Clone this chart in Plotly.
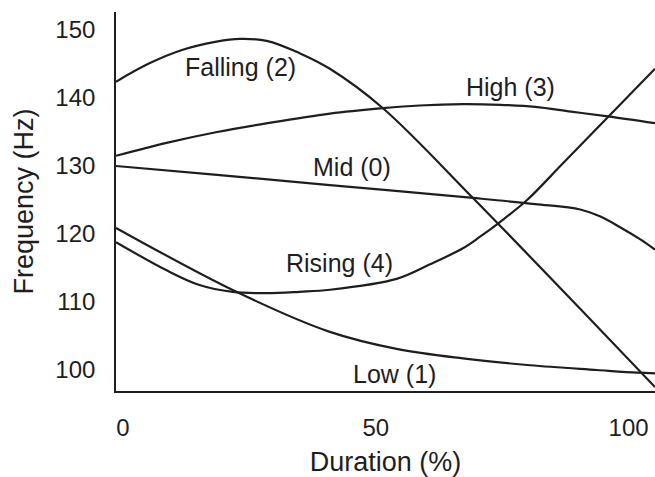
import plotly.graph_objects as go

# Duration (%) sample positions and frequency (Hz) values
falling_x = [0, 6.6, 13.2, 19.9, 24.5, 29.8, 36.3, 42.3, 52.8, 70.6, 91.8, 106.6]
falling_y = [142.4, 145.1, 147.1, 148.3, 148.7, 148.4, 146.6, 144.3, 138.5, 125.3, 109.0, 97.5]

high_x = [0, 10, 20, 30, 42.3, 52.8, 60.0, 68.6, 76.0, 82.9, 90.0, 97.3, 106.6]
high_y = [131.5, 133.4, 135.0, 136.3, 137.7, 138.5, 138.9, 139.1, 139.0, 138.7, 138.0, 137.3, 136.3]

mid_x = [0, 20.0, 42.3, 70.6, 82.9, 91.8, 95.7, 99.7, 103.7, 106.6]
mid_y = [130.0, 128.7, 127.2, 125.3, 124.4, 123.6, 122.6, 121.0, 119.2, 117.7]

rising_x = [0, 9.9, 16.5, 23.1, 29.8, 36.3, 42.3, 55.5, 62.0, 68.6, 72.0, 76.0, 81.3, 88.4, 97.7, 106.6]
rising_y = [118.8, 114.7, 112.5, 111.5, 111.3, 111.5, 111.8, 113.4, 115.5, 117.9, 119.6, 121.8, 125.0, 130.4, 137.5, 144.3]

low_x = [0, 23.8, 42.3, 55.5, 68.6, 81.9, 95.1, 103.1, 106.6]
low_y = [120.9, 111.5, 105.6, 103.1, 101.7, 100.7, 100.0, 99.6, 99.5]

labels = ["Falling (2)", "High (3)", "Mid (0)", "Rising (4)", "Low (1)"]
label_x = [24.6, 78.1, 46.6, 44.3, 55.0]
label_y = [144.6, 141.6, 129.9, 115.7, 99.4]

x_ticks = [0, 50, 100]
y_ticks = [100, 110, 120, 130, 140, 150]

INK = "#1e1e1e"
FONT = "Liberation Sans, Arial, Helvetica, sans-serif"

fig = go.Figure()
for xs, ys in [(falling_x, falling_y), (high_x, high_y), (mid_x, mid_y),
               (rising_x, rising_y), (low_x, low_y)]:
    fig.add_trace(go.Scatter(x=xs, y=ys, mode="lines",
                             line=dict(color=INK, width=2.2, shape="spline", smoothing=1.0),
                             showlegend=False, hoverinfo="skip"))

for t, lx, ly in zip(labels, label_x, label_y):
    fig.add_annotation(x=lx, y=ly, text=t, showarrow=False,
                       xanchor="center", yanchor="middle",
                       font=dict(family=FONT, size=25, color=INK))

fig.update_layout(
    width=655, height=477,
    margin=dict(l=116, r=0, t=12, b=86),
    plot_bgcolor="white", paper_bgcolor="white",
    font=dict(family=FONT, color=INK),
)
fig.update_xaxes(range=[0, 106.6], tickvals=x_ticks, showgrid=False, zeroline=False,
                 showline=True, linecolor=INK, linewidth=1.6, ticks="",
                 automargin=False,
                 ticklabelshift=7, ticklabelstandoff=14,
                 tickfont=dict(family=FONT, size=24, color=INK),
                 title=dict(text="Duration (%)", font=dict(family=FONT, size=27, color=INK), standoff=13))
fig.update_yaxes(range=[96.91, 152.65], tickvals=y_ticks, showgrid=False, zeroline=False,
                 showline=True, linecolor=INK, linewidth=1.6, ticks="",
                 automargin=False,
                 ticklabelstandoff=14,
                 tickfont=dict(family=FONT, size=24, color=INK),
                 title=dict(text="Frequency (Hz)", font=dict(family=FONT, size=27, color=INK), standoff=14))

fig.write_html("out.html", config={"displayModeBar": False},
               post_script="document.body.style.margin='0';document.body.style.overflow='hidden';")
